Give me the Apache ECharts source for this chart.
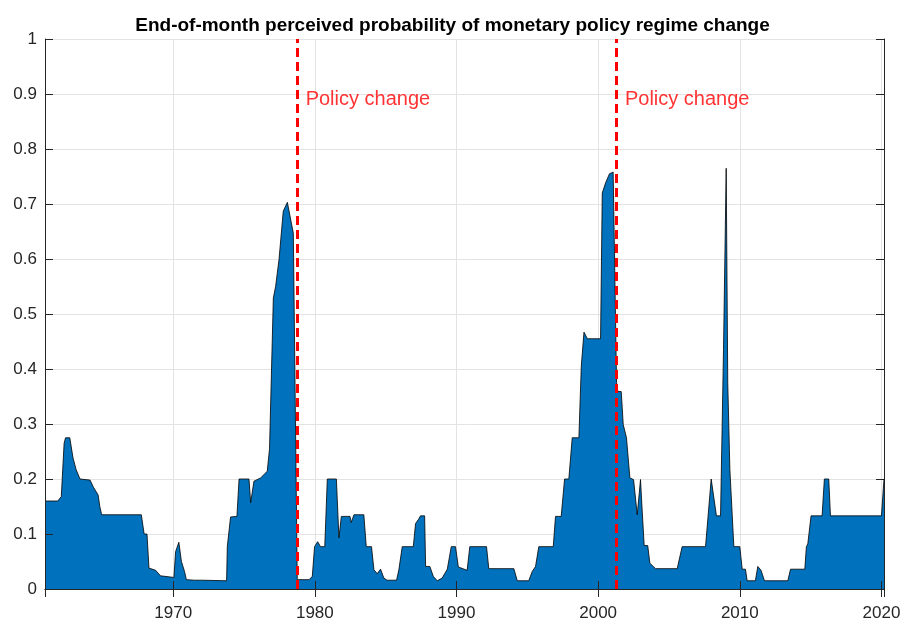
<!DOCTYPE html>
<html lang="en">
<head>
<meta charset="utf-8" />
<title>Regime change probability</title>
<script src="https://cdn.jsdelivr.net/npm/echarts@6/dist/echarts.min.js"></script>
<style>
  html, body { margin: 0; padding: 0; background: #fff; }
  #chart { width: 905px; height: 626px; }
</style>
</head>
<body>
<div id="chart"></div>
<script type="text/javascript">
// breakpoints of the shaded series (year, probability)
var years = [
  1960.95, 1961.85, 1962.1, 1962.3, 1962.4, 1962.7, 1962.93, 1963.15, 1963.42, 1964.13,
  1964.37, 1964.7, 1964.82, 1964.95, 1967.75, 1967.95, 1968.15, 1968.29, 1968.76, 1969.1,
  1970.05, 1970.17, 1970.4, 1970.58, 1970.8, 1970.93, 1971.5, 1972.0, 1973.77, 1973.82,
  1974.05, 1974.5, 1974.65, 1975.35, 1975.47, 1975.7, 1976.17, 1976.64, 1976.8, 1976.94,
  1977.07, 1977.23, 1977.47, 1977.77, 1978.06, 1978.3, 1978.48, 1978.76, 1979.6, 1979.82,
  1979.98, 1980.2, 1980.4, 1980.7, 1980.88, 1981.52, 1981.7, 1981.87, 1982.48, 1982.57,
  1982.76, 1983.46, 1983.63, 1984.0, 1984.17, 1984.4, 1984.64, 1984.87, 1985.1, 1985.77,
  1985.93, 1986.17, 1986.95, 1987.11, 1987.3, 1987.46, 1987.75, 1987.82, 1988.12, 1988.36,
  1988.64, 1988.99, 1989.35, 1989.63, 1989.93, 1990.13, 1990.75, 1990.94, 1992.12, 1992.28,
  1994.05, 1994.29, 1995.1, 1995.35, 1995.58, 1995.81, 1996.83, 1996.99, 1997.39, 1997.63,
  1997.93, 1998.17, 1998.64, 1998.81, 1999.0, 1999.24, 2000.17, 2000.29, 2000.52, 2000.8,
  2001.06, 2001.3, 2001.39, 2001.63, 2001.77, 2002.0, 2002.24, 2002.5, 2002.76, 2002.99,
  2003.1, 2003.25, 2003.5, 2003.65, 2004.05, 2005.58, 2005.93, 2007.58, 2007.98, 2008.35,
  2008.64, 2008.85, 2009.04, 2009.15, 2009.3, 2009.58, 2010.0, 2010.17, 2010.4, 2010.52,
  2011.1, 2011.27, 2011.5, 2011.74, 2013.39, 2013.58, 2014.59, 2014.7, 2014.8, 2015.03,
  2015.81, 2015.97, 2016.28, 2016.4, 2020.0, 2020.18
];
var probs = [
  0.16, 0.16, 0.168, 0.265, 0.275, 0.275, 0.238, 0.217, 0.2, 0.198,
  0.185, 0.171, 0.15, 0.135, 0.135, 0.1, 0.1, 0.038, 0.034, 0.024,
  0.021, 0.068, 0.085, 0.05, 0.032, 0.017, 0.016, 0.016, 0.015, 0.077,
  0.131, 0.132, 0.2, 0.2, 0.157, 0.196, 0.202, 0.214, 0.255, 0.255,
  0.529, 0.55, 0.599, 0.687, 0.703, 0.671, 0.647, 0.017, 0.017, 0.023,
  0.077, 0.086, 0.077, 0.077, 0.2, 0.2, 0.093, 0.132, 0.132, 0.121,
  0.135, 0.135, 0.077, 0.077, 0.035, 0.028, 0.036, 0.02, 0.016, 0.016,
  0.035, 0.077, 0.077, 0.119, 0.126, 0.133, 0.133, 0.041, 0.041, 0.023,
  0.015, 0.02, 0.036, 0.077, 0.077, 0.04, 0.034, 0.077, 0.077, 0.037,
  0.037, 0.015, 0.015, 0.032, 0.041, 0.077, 0.077, 0.132, 0.132, 0.2,
  0.2, 0.275, 0.275, 0.405, 0.467, 0.455, 0.455, 0.72, 0.738, 0.755,
  0.758, 0.375, 0.359, 0.359, 0.299, 0.275, 0.202, 0.199, 0.135, 0.199,
  0.147, 0.079, 0.079, 0.047, 0.037, 0.037, 0.077, 0.077, 0.2, 0.133,
  0.133, 0.435, 0.765, 0.375, 0.217, 0.077, 0.077, 0.036, 0.036, 0.015,
  0.015, 0.041, 0.034, 0.015, 0.015, 0.036, 0.036, 0.077, 0.082, 0.133,
  0.133, 0.2, 0.2, 0.133, 0.133, 0.2
];
// dates of the two policy changes (dashed lines)
var policyDates = [1978.75, 2001.29];
var policyLabel = 'Policy change';
var chartTitle = 'End-of-month perceived probability of monetary policy regime change';

var xMin = 1960.95, xMax = 2020.18;
var font = '"Liberation Sans", Arial, Helvetica, sans-serif';
var axisColor = '#262626';
var gridColor = '#e3e3e3';

var chart = echarts.init(document.getElementById('chart'));

var seriesData = years.map(function (y, i) { return [y, probs[i]]; });
var labelData = policyDates.map(function (d) { return [d, 0.89]; });

// only label the decades, the axis ends are not round numbers
function decadeLabel(v) {
  return Math.abs(v - Math.round(v / 10) * 10) < 1e-6 ? String(Math.round(v)) : '';
}

// bottom/left axes carry labels + ticks drawn above the area,
// top/right axes carry the grid lines drawn below it
var option = {
  backgroundColor: '#fff',
  animation: false,
  title: {
    text: chartTitle,
    left: 'center',
    top: 11,
    textStyle: { fontFamily: font, fontSize: 19, fontWeight: 'bold', color: '#000' }
  },
  grid: { left: 45, right: 21, top: 39, bottom: 37, containLabel: false },
  xAxis: [{
    type: 'value', min: xMin, max: xMax, splitNumber: 6, z: 5,
    axisLine: { show: true, lineStyle: { color: axisColor, width: 1 } },
    axisTick: { show: true, inside: true, length: 8, lineStyle: { color: axisColor } },
    axisLabel: { formatter: decadeLabel, fontFamily: font, fontSize: 17, color: axisColor, margin: 16 },
    splitLine: { show: false }
  }, {
    type: 'value', position: 'top', min: xMin, max: xMax, splitNumber: 6, z: 0,
    axisLine: { show: true, lineStyle: { color: axisColor, width: 1 } },
    axisTick: { show: true, inside: true, length: 8, lineStyle: { color: axisColor } },
    axisLabel: { show: false },
    splitLine: { show: true, lineStyle: { color: gridColor, width: 1 } }
  }],
  yAxis: [{
    type: 'value', min: 0, max: 1, interval: 0.1, z: 5,
    axisLine: { show: true, lineStyle: { color: axisColor, width: 1 } },
    axisTick: { show: true, inside: true, length: 8, lineStyle: { color: axisColor } },
    axisLabel: { fontFamily: font, fontSize: 17, color: axisColor, margin: 8 },
    splitLine: { show: false }
  }, {
    type: 'value', position: 'right', min: 0, max: 1, interval: 0.1, z: 0,
    axisLine: { show: true, lineStyle: { color: axisColor, width: 1 } },
    axisTick: { show: true, inside: true, length: 8, lineStyle: { color: axisColor } },
    axisLabel: { show: false },
    splitLine: { show: true, lineStyle: { color: gridColor, width: 1 } }
  }],
  series: [{
    name: 'probability',
    type: 'line',
    data: seriesData,
    showSymbol: false,
    symbol: 'none',
    z: 2,
    lineStyle: { color: '#000', width: 0.8 },
    areaStyle: { color: '#0072BD', opacity: 1 },
    markLine: {
      silent: true,
      symbol: 'none',
      label: { show: false },
      lineStyle: { color: '#ff0000', width: 3, type: [9, 5] },
      data: policyDates.map(function (d) { return { xAxis: d }; })
    }
  }, {
    name: 'labels',
    type: 'scatter',
    data: labelData,
    symbolSize: 1,
    itemStyle: { color: 'rgba(0,0,0,0)' },
    silent: true,
    z: 6,
    label: {
      show: true, position: 'right', distance: 8,
      formatter: policyLabel,
      fontFamily: font, fontSize: 20, color: '#ff0000'
    }
  }]
};

chart.setOption(option);
</script>
</body>
</html>
